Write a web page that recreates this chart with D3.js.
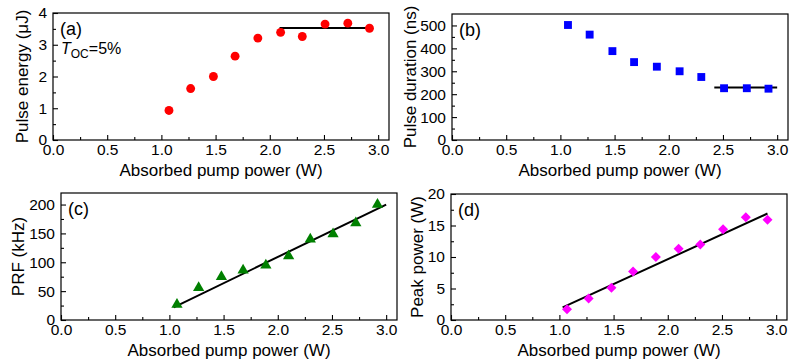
<!DOCTYPE html>
<html>
<head>
<meta charset="utf-8">
<script src="https://cdn.jsdelivr.net/npm/d3@7"></script>
<style>
  html, body { margin: 0; padding: 0; background: #fff; }
  svg { display: block; font-family: "Liberation Sans", Arial, sans-serif; }
</style>
</head>
<body>
<svg id="chart" width="790" height="362"></svg>
<script>
// ---------- data ----------
const power = [1.07, 1.27, 1.48, 1.68, 1.89, 2.10, 2.30, 2.51, 2.72, 2.92];
const energy = [0.93, 1.62, 2.00, 2.64, 3.21, 3.39, 3.26, 3.65, 3.68, 3.52];
const duration = [502, 460, 388, 340, 320, 300, 275, 226, 226, 224];
const prf = [27, 56, 75, 86, 95, 111, 140, 149, 168, 200];
const peak = [1.7, 3.4, 5.1, 7.7, 10.0, 11.3, 12.0, 14.4, 16.3, 15.9];

const energyFitX = [2.09, 2.95];
const energyFitY = [3.53, 3.53];
const durationFitX = [2.42, 3.0];
const durationFitY = [229, 229];
const prfFitX = [1.04, 3.0];
const prfFitY = [22, 200];
const peakFitX = [1.03, 2.92];
const peakFitY = [2.0, 16.9];

const xTicks = [0.0, 0.5, 1.0, 1.5, 2.0, 2.5, 3.0];
const xMinor = [0.25, 0.75, 1.25, 1.75, 2.25, 2.75];
const xTitle = "Absorbed pump power (W)";

const energyTicks = [0, 1, 2, 3, 4];
const energyMinor = [0.5, 1.5, 2.5, 3.5];
const durationTicks = [0, 100, 200, 300, 400, 500];
const durationMinor = [50, 150, 250, 350, 450];
const prfTicks = [0, 50, 100, 150, 200];
const prfMinor = [25, 75, 125, 175];
const peakTicks = [0, 5, 10, 15, 20];
const peakMinor = [2.5, 7.5, 12.5, 17.5];

// ---------- drawing ----------
const svg = d3.select("#chart");

function panel(opt) {
  const x = d3.scaleLinear().domain([0, 3.1]).range([opt.left, opt.right]);
  const y = d3.scaleLinear().domain(opt.yDomain).range([opt.bottom, opt.top]);
  const g = svg.append("g");

  // frame
  g.append("rect")
    .attr("x", opt.left).attr("y", opt.top)
    .attr("width", opt.right - opt.left).attr("height", opt.bottom - opt.top)
    .attr("fill", "none").attr("stroke", "#000").attr("stroke-width", 1.2);

  // x axis
  const xa = g.append("g").attr("transform", `translate(0,${opt.bottom})`)
    .call(d3.axisBottom(x).tickValues(xTicks).tickFormat(d3.format(".1f"))
      .tickSizeInner(-5).tickSizeOuter(0).tickPadding(4));
  const xm = g.append("g").attr("transform", `translate(0,${opt.bottom})`)
    .call(d3.axisBottom(x).tickValues(xMinor).tickFormat("")
      .tickSizeInner(-3).tickSizeOuter(0));
  // y axis
  const ya = g.append("g").attr("transform", `translate(${opt.left},0)`)
    .call(d3.axisLeft(y).tickValues(opt.yTicks).tickFormat(d3.format("d"))
      .tickSizeInner(-5).tickSizeOuter(0).tickPadding(6));
  const ym = g.append("g").attr("transform", `translate(${opt.left},0)`)
    .call(d3.axisLeft(y).tickValues(opt.yMinor).tickFormat("")
      .tickSizeInner(-3).tickSizeOuter(0));
  [xa, xm, ya, ym].forEach(a => {
    a.select(".domain").remove();
    a.selectAll("line").attr("stroke", "#000").attr("stroke-width", 1.1);
    a.selectAll("text").attr("font-size", 15.5).attr("fill", "#000")
      .attr("font-family", "Liberation Sans, Arial, sans-serif");
  });

  // titles
  g.append("text")
    .attr("x", (opt.left + opt.right) / 2).attr("y", opt.bottom + 36)
    .attr("text-anchor", "middle").attr("font-size", 17).text(xTitle);
  g.append("text")
    .attr("transform", `translate(${opt.yTitleX},${(opt.top + opt.bottom) / 2}) rotate(-90)`)
    .attr("text-anchor", "middle").attr("font-size", 17).text(opt.yTitle);

  // panel label
  g.append("text").attr("x", opt.left + 7).attr("y", opt.top + 22)
    .attr("font-size", 18).text(opt.label);

  // fit line
  const line = d3.line().x(d => x(d[0])).y(d => y(d[1]));
  g.append("path")
    .datum(opt.fitX.map((v, i) => [v, opt.fitY[i]]))
    .attr("d", line).attr("fill", "none").attr("stroke", "#000").attr("stroke-width", 2);

  // markers
  const sym = d3.symbol().type(opt.symbol).size(opt.size);
  g.selectAll("path.pt").data(power.map((v, i) => [v, opt.values[i]]))
    .join("path").attr("class", "pt")
    .attr("transform", d => `translate(${x(d[0])},${y(d[1])}) rotate(${opt.rotate || 0})`)
    .attr("d", sym).attr("fill", opt.color);

  return g;
}

const ga = panel({
  left: 53, right: 389, top: 13, bottom: 140,
  yDomain: [0, 4], yTicks: energyTicks, yMinor: energyMinor,
  yTitle: "Pulse energy (μJ)", yTitleX: 28, label: "(a)",
  values: energy, fitX: energyFitX, fitY: energyFitY,
  symbol: d3.symbolCircle, size: 62, color: "#ff0000"
});
// T_OC = 5% annotation
const ann = ga.append("text").attr("x", 61).attr("y", 54).attr("font-size", 16);
ann.append("tspan").attr("font-style", "italic").text("T");
ann.append("tspan").attr("font-size", 12).attr("dy", 4).text("OC");
ann.append("tspan").attr("dy", -4).text("=5%");

panel({
  left: 452, right: 788, top: 14, bottom: 140,
  yDomain: [0, 550], yTicks: durationTicks, yMinor: durationMinor,
  yTitle: "Pulse duration (ns)", yTitleX: 416, label: "(b)",
  values: duration, fitX: durationFitX, fitY: durationFitY,
  symbol: d3.symbolSquare, size: 62, color: "#0000ff"
});

panel({
  left: 61, right: 397, top: 193, bottom: 320,
  yDomain: [0, 220], yTicks: prfTicks, yMinor: prfMinor,
  yTitle: "PRF (kHz)", yTitleX: 24, label: "(c)",
  values: prf, fitX: prfFitX, fitY: prfFitY,
  symbol: d3.symbolTriangle, size: 55, color: "#008000"
});

panel({
  left: 451, right: 787, top: 194, bottom: 320,
  yDomain: [0, 20], yTicks: peakTicks, yMinor: peakMinor,
  yTitle: "Peak power (W)", yTitleX: 423, label: "(d)",
  values: peak, fitX: peakFitX, fitY: peakFitY,
  symbol: d3.symbolSquare, size: 50, color: "#ff00ff", rotate: 45
});
</script>
</body>
</html>
